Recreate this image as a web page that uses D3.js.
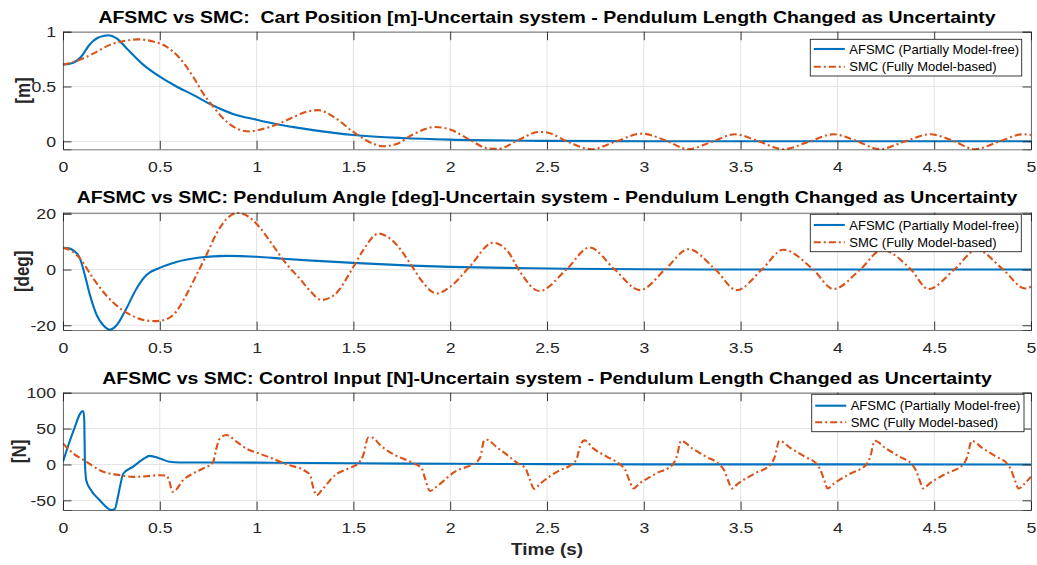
<!DOCTYPE html>
<html><head><meta charset="utf-8">
<script src="https://cdn.jsdelivr.net/npm/d3@7"></script>
<style>
html,body{margin:0;padding:0;background:#fff;}
svg{display:block;font-family:"Liberation Sans",Arial,Helvetica,sans-serif;}
text{white-space:pre;}
</style></head>
<body>
<svg id="chart" width="1037" height="565"></svg>
<script>
// ---------------- DATA ----------------
const xTicks = [0, 0.5, 1, 1.5, 2, 2.5, 3, 3.5, 4, 4.5, 5];
const xTickLabels = ["0", "0.5", "1", "1.5", "2", "2.5", "3", "3.5", "4", "4.5", "5"];
const seriesNames = ["AFSMC (Partially Model-free)", "SMC (Fully Model-based)"];
const titles = [
  "AFSMC vs SMC:  Cart Position [m]-Uncertain system - Pendulum Length Changed as Uncertainty",
  "AFSMC vs SMC: Pendulum Angle [deg]-Uncertain system - Pendulum Length Changed as Uncertainty",
  "AFSMC vs SMC: Control Input [N]-Uncertain system - Pendulum Length Changed as Uncertainty"
];
const yLabels = ["[m]", "[deg]", "[N]"];
const xLabel = "Time (s)";

const posTicks = [0, 0.5, 1];
const angTicks = [-20, 0, 20];
const ctlTicks = [-50, 0, 50, 100];

// Cart position [m]
const posAFSMC = [[0,0.70],[0.05,0.715],[0.1,0.785],[0.13,0.865],[0.156,0.915],[0.18,0.945],[0.21,0.962],[0.234,0.968],[0.277,0.94],[0.328,0.85],[0.414,0.70],[0.5,0.59],[0.586,0.50],[0.672,0.424],[0.775,0.327],[0.878,0.25],[1.0,0.197],[1.1,0.158],[1.2,0.127],[1.3,0.1],[1.4,0.077],[1.5,0.058],[1.75,0.03],[2.0,0.015],[2.5,0.004],[3,0.001],[5,0]];
const posSMC = [[0,0.70],[0.07,0.733],[0.156,0.80],[0.242,0.88],[0.328,0.92],[0.388,0.93],[0.466,0.91],[0.534,0.864],[0.603,0.758],[0.672,0.59],[0.723,0.44],[0.775,0.318],[0.844,0.18],[0.912,0.106],[0.964,0.09],[1.015,0.106],[1.1,0.15],[1.187,0.218],[1.265,0.273],[1.32,0.284],[1.4,0.22],[1.5,0.085],[1.6,-0.02],[1.65,-0.045],[1.72,-0.027],[1.8,0.055],[1.92,0.13],[2.0,0.107],[2.1,0.015],[2.2,-0.067],[2.25,-0.068],[2.35,0.01],[2.46,0.085],[2.5,0.08],[2.61,-0.006],[2.73,-0.072],[2.85,-0.006],[2.99,0.07],[3.11,0.01],[3.23,-0.072],[3.35,-0.006],[3.47,0.064],[3.59,0.003],[3.72,-0.072],[3.85,-0.006],[3.98,0.064],[4.09,0.009],[4.22,-0.072],[4.34,-0.006],[4.48,0.064],[4.6,0.003],[4.71,-0.072],[4.83,-0.006],[4.96,0.064],[5,0.058]];

// Pendulum angle [deg]
const angAFSMC = [[0,7.8],[0.03,7.6],[0.053,6.9],[0.088,3.9],[0.113,-2],[0.139,-9.1],[0.174,-16.3],[0.208,-20],[0.242,-21.6],[0.277,-20],[0.328,-13.9],[0.38,-6.8],[0.431,-2],[0.5,0.6],[0.586,2.7],[0.706,4.3],[0.844,4.9],[1.0,4.6],[1.136,3.9],[1.265,3.3],[1.5,2.4],[1.8,1.4],[2.0,0.95],[2.3,0.6],[2.6,0.3],[3,0.1],[3.5,0.02],[5,0]];
const angSMC = [[0,7.8],[0.053,6.3],[0.088,3.9],[0.156,-3.2],[0.225,-9.4],[0.294,-13.9],[0.363,-16.8],[0.431,-18.3],[0.47,-18.5],[0.5,-18.4],[0.569,-16.3],[0.637,-9.1],[0.689,-2],[0.74,5.1],[0.792,12.8],[0.844,18.1],[0.904,20.3],[0.964,18.7],[1.015,15.2],[1.084,8.7],[1.153,2.1],[1.222,-3.2],[1.273,-7.4],[1.335,-10.9],[1.4,-9.2],[1.5,0.95],[1.55,6.9],[1.63,12.9],[1.7,10.5],[1.8,1.5],[1.85,-3.8],[1.93,-8.6],[2.0,-6.2],[2.1,1],[2.22,9.6],[2.3,6.3],[2.355,-0.2],[2.46,-7.7],[2.6,0],[2.72,7.9],[2.85,0],[2.98,-7.4],[3.11,0],[3.23,7.3],[3.37,0],[3.48,-7.4],[3.61,0],[3.72,7.1],[3.875,0],[3.98,-7],[4.118,0],[4.23,7],[4.38,0],[4.47,-7],[4.604,0],[4.72,7],[4.856,0],[4.97,-6.8],[5,-6.2]];

// Control input [N]
const ctlAFSMC = [[0,3.7],[0.053,46],[0.101,74],[0.106,74],[0.11,60],[0.113,5],[0.12,-22],[0.14,-34],[0.19,-50],[0.25,-63.4],[0.268,-62],[0.28,-50],[0.295,-30],[0.311,-13],[0.363,-3],[0.414,7.5],[0.448,12],[0.5,8.4],[0.55,3.7],[0.6,2.8],[1.0,2.5],[1.5,1.6],[2,0.9],[2.5,0.4],[3,0.1],[5,0]];
const ctlSMC = [[0,29.4],[0.053,15.4],[0.122,3.7],[0.19,-8],[0.294,-15],[0.363,-17.3],[0.43,-16.4],[0.5,-15],[0.534,-15.5],[0.55,-24],[0.565,-38],[0.577,-37],[0.62,-22],[0.672,-12.6],[0.723,-5.6],[0.775,2.8],[0.79,20],[0.81,36],[0.844,41],[0.895,32],[0.947,22],[1.012,15.4],[1.078,8.6],[1.164,-0.7],[1.25,-9],[1.276,-14.7],[1.293,-33],[1.31,-43],[1.336,-36],[1.405,-15],[1.474,-5.6],[1.525,1.4],[1.551,13],[1.577,37.6],[1.594,37.6],[1.646,25],[1.715,13],[1.80,3],[1.853,-5.6],[1.87,-19.6],[1.896,-37],[1.93,-31],[1.99,-17.3],[2.025,-10],[2.08,-4],[2.13,2],[2.155,10],[2.175,33],[2.19,34.5],[2.24,24],[2.3,12],[2.35,1.4],[2.39,-6],[2.41,-20],[2.434,-34],[2.464,-27],[2.567,-8],[2.619,-1.6],[2.653,7.5],[2.67,24.8],[2.694,33.5],[2.739,22.4],[2.808,11],[2.877,0],[2.905,-8],[2.925,-22],[2.946,-33.6],[2.976,-27],[3.06,-13],[3.15,0],[3.17,11],[3.193,33],[3.25,22.5],[3.32,11],[3.39,0],[3.415,-8],[3.435,-22],[3.455,-33.6],[3.485,-27],[3.57,-13],[3.655,0],[3.677,11],[3.70,33],[3.76,22.5],[3.83,11],[3.895,0],[3.913,-8],[3.932,-22],[3.95,-33.6],[3.98,-27],[4.065,-13],[4.15,0],[4.17,11],[4.193,33],[4.25,22.5],[4.32,11],[4.385,0],[4.405,-8],[4.425,-22],[4.444,-33.6],[4.474,-27],[4.56,-13],[4.65,0],[4.671,11],[4.694,33],[4.75,22.5],[4.82,11],[4.88,0],[4.898,-8],[4.917,-22],[4.936,-33.6],[4.966,-27],[5.0,-17]];

// ---------------- LAYOUT ----------------
const W = 1037, H = 565;
const plotX0 = 63, plotX1 = 1031;
const SX = 1.18; // horizontal stretch of the source raster's text
const panels = [
  {top: 31.7, bottom: 149.3, domain: [-0.073, 1], ticks: posTicks, a: posAFSMC, s: posSMC, ylx: 30,
   leg: {x0: 810.3, x1: 1021.7, y0: 39.3, y1: 76, l1: 49, l2: 66.7}, titleY: 23.3},
  {top: 212.7, bottom: 330, domain: [-21.7, 20.4], ticks: angTicks, a: angAFSMC, s: angSMC, ylx: 29,
   leg: {x0: 810.3, x1: 1021.3, y0: 214.3, y1: 251.7, l1: 225, l2: 242.3}, titleY: 203.3},
  {top: 392.7, bottom: 510, domain: [-63.5, 100], ticks: ctlTicks, a: ctlAFSMC, s: ctlSMC, ylx: 26,
   leg: {x0: 811.7, x1: 1024, y0: 394.3, y1: 431.7, l1: 405.7, l2: 422.3}, titleY: 384.3}
];
const blue = "#0072BD", orange = "#D95319", axisCol = "#262626";
const tickLen = 8.5;

const svg = d3.select("#chart");
svg.append("rect").attr("width", W).attr("height", H).attr("fill", "#fff");

const x = d3.scaleLinear().domain([0, 5]).range([plotX0, plotX1]);

panels.forEach((p, i) => {
  const y = d3.scaleLinear().domain(p.domain).range([p.bottom, p.top]);
  const g = svg.append("g");
  const hgt = p.bottom - p.top, wid = plotX1 - plotX0;

  // grid
  g.append("g").selectAll("line").data(xTicks).join("line")
    .attr("x1", d => x(d)).attr("x2", d => x(d)).attr("y1", p.top).attr("y2", p.bottom)
    .attr("stroke", "#e3e3e3").attr("stroke-width", 1);
  g.append("g").selectAll("line").data(p.ticks).join("line")
    .attr("x1", plotX0).attr("x2", plotX1).attr("y1", d => y(d)).attr("y2", d => y(d))
    .attr("stroke", "#e3e3e3").attr("stroke-width", 1);

  // clip
  const clipId = "clip" + i;
  svg.append("clipPath").attr("id", clipId).append("rect")
    .attr("x", plotX0).attr("y", p.top - 1).attr("width", wid).attr("height", hgt + 2);

  const line = d3.line().x(d => x(d[0])).y(d => y(d[1])).curve(d3.curveMonotoneX);
  const lg = g.append("g").attr("clip-path", `url(#${clipId})`);
  lg.append("path").datum(p.a).attr("d", line).attr("fill", "none")
    .attr("stroke", blue).attr("stroke-width", 2.1).attr("stroke-linejoin", "round");
  lg.append("path").datum(p.s).attr("d", line).attr("fill", "none")
    .attr("stroke", orange).attr("stroke-width", 2.1).attr("stroke-dasharray", "7,3,2,3");

  // axes (inward ticks)
  const fmtX = (d) => xTickLabels[xTicks.indexOf(d)];
  const ab = g.append("g").attr("transform", `translate(0,${p.bottom})`)
    .call(d3.axisBottom(x).tickValues(xTicks).tickFormat(fmtX).tickSize(-tickLen).tickPadding(12.3));
  const at = g.append("g").attr("transform", `translate(0,${p.top})`)
    .call(d3.axisTop(x).tickValues(xTicks).tickFormat("").tickSize(-tickLen));
  const al = g.append("g").attr("transform", `translate(${plotX0},0)`)
    .call(d3.axisLeft(y).tickValues(p.ticks).tickFormat(d => String(d)).tickSize(-tickLen).tickPadding(7));
  const ar = g.append("g").attr("transform", `translate(${plotX1},0)`)
    .call(d3.axisRight(y).tickValues(p.ticks).tickFormat("").tickSize(-tickLen));
  [ab, at, al, ar].forEach(a => {
    a.select(".domain").attr("stroke", axisCol).attr("stroke-width", 0.8).attr("stroke-opacity", 0.8);
    a.selectAll(".tick line").attr("stroke", axisCol).attr("stroke-width", 0.9);
    a.selectAll(".tick text").attr("fill", axisCol).attr("font-size", 15)
      .attr("font-family", '"Liberation Sans",Arial,sans-serif')
      .each(function() {
        const t = d3.select(this);
        const xv = +t.attr("x") || 0;
        t.attr("x", xv / SX).attr("transform", `scale(${SX},1)`);
      });
  });

  // title
  g.append("text").attr("transform", `translate(${(plotX0 + plotX1) / 2},${p.titleY}) scale(${SX},1)`)
    .attr("text-anchor", "middle").attr("font-weight", "bold").attr("font-size", 16.5)
    .attr("fill", "#000").text(titles[i]);

  // y label
  g.append("text").attr("transform", `translate(${p.ylx},${(p.top + p.bottom) / 2}) scale(${SX},1) rotate(-90)`)
    .attr("text-anchor", "middle").attr("font-weight", "bold").attr("font-size", 17)
    .attr("fill", axisCol).text(yLabels[i]);

  // legend
  const L = p.leg;
  const leg = g.append("g");
  leg.append("rect").attr("x", L.x0).attr("y", L.y0).attr("width", L.x1 - L.x0).attr("height", L.y1 - L.y0)
    .attr("fill", "#fff").attr("stroke", axisCol).attr("stroke-width", 0.9);
  const entries = [{c: blue, dash: null, yy: L.l1}, {c: orange, dash: "7,3,2,3", yy: L.l2}];
  entries.forEach((e, k) => {
    leg.append("line").attr("x1", L.x0 + 3.5).attr("x2", L.x0 + 34.5).attr("y1", e.yy).attr("y2", e.yy)
      .attr("stroke", e.c).attr("stroke-width", 2.1).attr("stroke-dasharray", e.dash);
    leg.append("text").attr("x", L.x0 + 39).attr("y", e.yy + 4.6)
      .attr("font-size", 13).attr("fill", "#000").text(seriesNames[k]);
  });
});

// x label
svg.append("text").attr("transform", `translate(${(plotX0 + plotX1) / 2},555) scale(${SX},1)`)
  .attr("text-anchor", "middle").attr("font-weight", "bold").attr("font-size", 16)
  .attr("fill", axisCol).text(xLabel);
</script>
</body></html>
